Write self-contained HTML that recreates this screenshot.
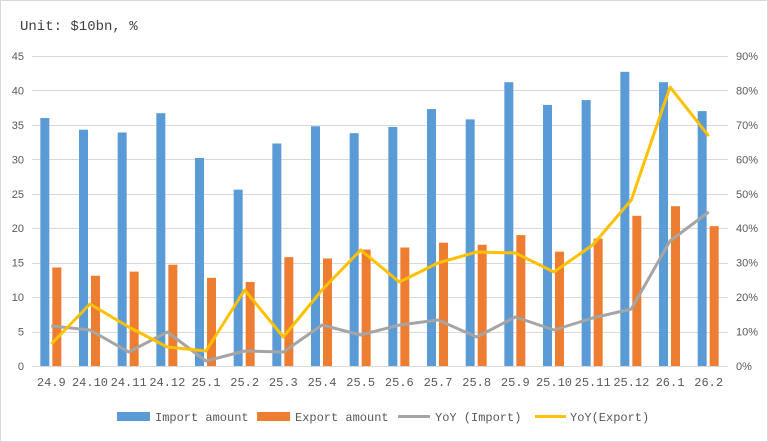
<!DOCTYPE html>
<html><head><meta charset="utf-8"><style>
body{margin:0;background:#fff}
svg{display:block}
</style></head><body>
<svg width="768" height="442" xmlns="http://www.w3.org/2000/svg">
<rect x="0.5" y="0.5" width="767" height="441" fill="#fff" stroke="#d9d9d9"/>
<text x="20" y="30" font-family="Liberation Mono, monospace" font-size="14" fill="#404040">Unit: $10bn, %</text>
<g stroke="#d9d9d9" stroke-width="1">
<line x1="32" x2="728" y1="56.5" y2="56.5"/><line x1="32" x2="728" y1="90.5" y2="90.5"/>
<line x1="32" x2="728" y1="125.5" y2="125.5"/><line x1="32" x2="728" y1="159.5" y2="159.5"/>
<line x1="32" x2="728" y1="194.5" y2="194.5"/><line x1="32" x2="728" y1="228.5" y2="228.5"/>
<line x1="32" x2="728" y1="263.5" y2="263.5"/><line x1="32" x2="728" y1="297.5" y2="297.5"/>
<line x1="32" x2="728" y1="332.5" y2="332.5"/><line x1="32" x2="728" y1="366.5" y2="366.5"/>
</g>
<g font-family="Liberation Sans, sans-serif" font-size="11" fill="#595959" text-anchor="end" id="ly"></g>
<g font-family="Liberation Sans, sans-serif" font-size="11" fill="#595959" text-anchor="start" id="ry"></g>
<g id="bars"></g>
<g font-family="Liberation Mono, monospace" font-size="12" fill="#595959" text-anchor="middle" id="xl"></g>
<polyline id="yi" fill="none" stroke="#a5a5a5" stroke-width="3" stroke-linejoin="round"/>
<polyline id="ye" fill="none" stroke="#ffc000" stroke-width="3" stroke-linejoin="round"/>
<g font-family="Liberation Mono, monospace" font-size="12" fill="#595959">
<rect x="117" y="412" width="33" height="9" fill="#5b9bd5"/><text x="155" y="421">Import amount</text>
<rect x="257" y="412" width="33" height="9" fill="#ed7d31"/><text x="295" y="421">Export amount</text>
<line x1="398" x2="430" y1="416.5" y2="416.5" stroke="#a5a5a5" stroke-width="3"/><text x="435" y="421">YoY (Import)</text>
<line x1="535" x2="566" y1="416.5" y2="416.5" stroke="#ffc000" stroke-width="3"/><text x="570" y="421">YoY(Export)</text>
</g>
<script>
var ns="http://www.w3.org/2000/svg";
function el(p,t,a,txt){var e=document.createElementNS(ns,t);for(var k in a)e.setAttribute(k,a[k]);if(txt!=null)e.textContent=txt;document.getElementById(p).appendChild(e);}
for(var i=0;i<=9;i++){var y=366-i*34.44;el("ly","text",{x:24,y:y+4},String(i*5));el("ry","text",{x:736,y:y+4},(i*10)+"%");}
var L=["24.9","24.10","24.11","24.12","25.1","25.2","25.3","25.4","25.5","25.6","25.7","25.8","25.9","25.10","25.11","25.12","26.1","26.2"];
var im=[36,34.3,33.9,36.7,30.2,25.6,32.3,34.8,33.8,34.7,37.3,35.8,41.2,37.9,38.6,42.7,41.2,37.0];
var ex=[14.3,13.1,13.7,14.7,12.8,12.2,15.8,15.6,16.9,17.2,17.9,17.6,19.0,16.6,18.5,21.8,23.2,20.3];
var yi=[326,330,352,332,361,351,352,325,335,325,320,337,317,330,318,309,241,212];
var ye=[344,304,327,347,351,290,337,290,250,282,263,252,253,272,245,200,87,136];
var w=696/18,pi=[],pe=[];
for(var i=0;i<18;i++){var c=32+w*(i+0.5);
var h=im[i]*6.889;el("bars","rect",{x:c-11,y:366-h,width:9,height:h,fill:"#5b9bd5"});
h=ex[i]*6.889;el("bars","rect",{x:c+1,y:366-h,width:9,height:h,fill:"#ed7d31"});
el("xl","text",{x:c,y:386},L[i]);pi.push(c+","+yi[i]);pe.push(c+","+ye[i]);}
document.getElementById("yi").setAttribute("points",pi.join(" "));
document.getElementById("ye").setAttribute("points",pe.join(" "));
</script>
</svg>
</body></html>
